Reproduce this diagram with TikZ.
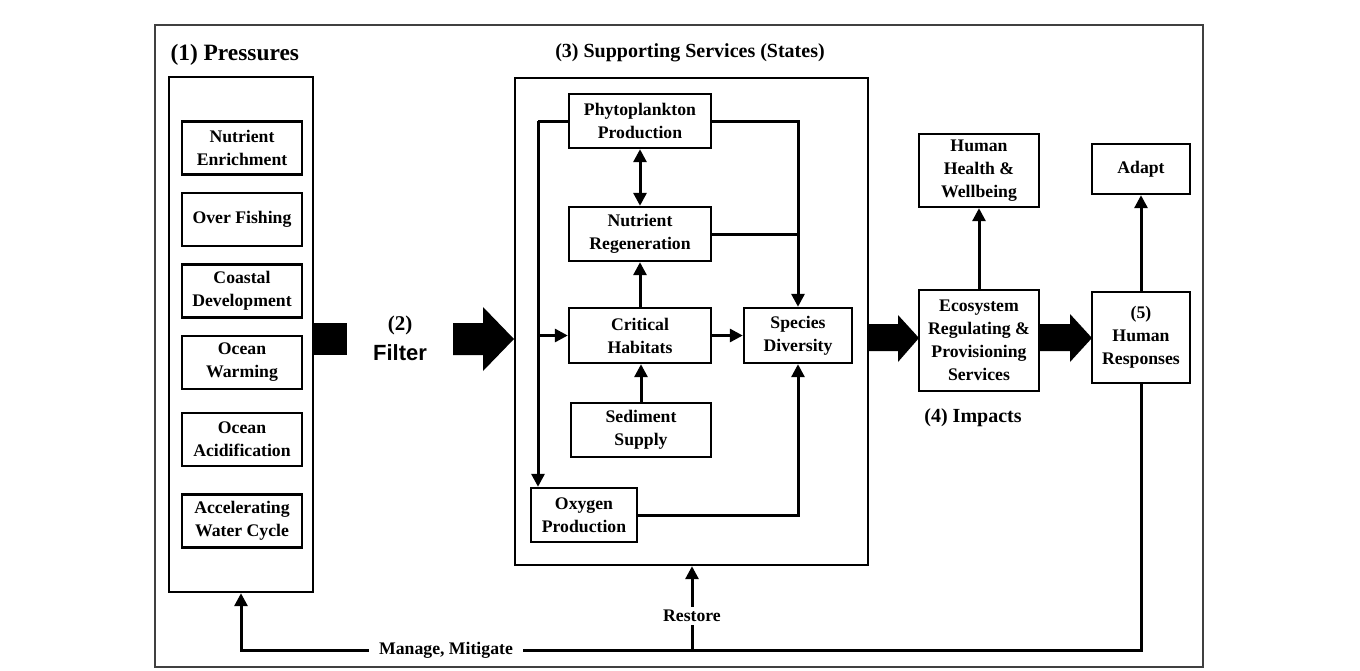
\documentclass[tikz,border=0pt]{standalone}
\usepackage{fontspec}
\setmainfont{Liberation Serif}
\newfontfamily\filterfont{Liberation Sans}
\usepackage{tikz}
\usetikzlibrary{arrows.meta,calc,positioning}

\begin{document}
\begin{tikzpicture}[x=1pt,y=-1pt,
    box/.style={draw,line width=2.4pt,align=center,inner sep=0pt,
        font=\fontsize{17.7}{23}\selectfont\bfseries},
    lbl/.style={font=\fontsize{17.7}{23}\selectfont\bfseries},
    arr/.style={line width=3pt,-{Triangle[length=13pt,width=13pt]}},
    lin/.style={line width=3pt}]
    \useasboundingbox (0,0) rectangle (1360,670);
    \draw[line width=1.3pt,black!75] (155,25) rectangle (1203,667);

    % (1) pressures
    \node[font=\fontsize{23.4}{27}\selectfont\bfseries,anchor=west] (t1) at (167,55) {(1) Pressures};
    \node[box,minimum width=144pt,minimum height=515pt] (press) at (241,334.5) {};
    \node[box,minimum width=120pt,minimum height=53pt] (ne) at (242,148) {Nutrient\\Enrichment};
    \node[box,minimum width=120pt,minimum height=53pt] (of) at (242,219.5) {Over Fishing};
    \node[box,minimum width=120pt,minimum height=53pt] (cd) at (242,291) {Coastal\\Development};
    \node[box,minimum width=120pt,minimum height=53pt] (ow) at (242,362.5) {Ocean\\Warming};
    \node[box,minimum width=120pt,minimum height=53pt] (oa) at (242,439.5) {Ocean\\Acidification};
    \node[box,minimum width=120pt,minimum height=53pt] (aw) at (242,521) {Accelerating\\Water Cycle};

    % (2) filter
    \fill (313,323) rectangle (347,355);
    \node[font=\fontsize{21}{24}\selectfont\bfseries] (t2a) at (400,325) {(2)};
    \node[font=\fontsize{22}{24}\selectfont\filterfont\bfseries] (t2b) at (400,353) {Filter};
    \fill (453,323) -- (483,323) -- (483,307) -- (514,339) -- (483,371) -- (483,355) -- (453,355) -- cycle;

    % (3) supporting services
    \node[font=\fontsize{20}{24}\selectfont\bfseries] (t3) at (690,53) {(3) Supporting Services (States)};
    \node[box,minimum width=353pt,minimum height=487pt] (sup) at (691.5,321.5) {};
    \node[box,minimum width=142pt,minimum height=54pt] (phy) at (640,121) {Phytoplankton\\Production};
    \node[box,minimum width=142pt,minimum height=54pt] (nre) at (640,234) {Nutrient\\Regeneration};
    \node[box,minimum width=142pt,minimum height=55pt] (cri) at (640,335.5) {Critical\\Habitats};
    \node[box,minimum width=108pt,minimum height=55pt] (spe) at (798,335.5) {Species\\Diversity};
    \node[box,minimum width=140pt,minimum height=54pt] (sed) at (641,430) {Sediment\\Supply};
    \node[box,minimum width=106pt,minimum height=54pt] (oxy) at (584,515) {Oxygen\\Production};
    \coordinate (lft) at (538,121);
    \draw[lin] (phy.west) -- (lft);
    \draw[arr] (lft) -- (lft |- oxy.north);
    \draw[arr] (lft |- cri.west) -- (cri.west);
    \draw[arr] (phy.east) -| (spe.north);
    \draw[lin] (nre.east) -- (spe.north |- nre.east);
    \draw[arr] (oxy.east) -| (spe.south);
    \draw[line width=3pt,{Triangle[length=13pt,width=13pt]}-{Triangle[length=13pt,width=13pt]}] (phy.south) -- (nre.north);
    \draw[arr] (cri.north) -- (nre.south);
    \draw[arr] (sed.north) -- (sed.north |- cri.south);
    \draw[arr] (cri.east) -- (spe.west);

    % (4) impacts
    \fill (868,324) -- (898,324) -- (898,315) -- (919,338) -- (898,362) -- (898,351) -- (868,351) -- cycle;
    \node[box,minimum width=120pt,minimum height=101pt] (eco) at (979,340.5) {Ecosystem\\Regulating \&\\Provisioning\\Services};
    \node[box,minimum width=120pt,minimum height=73pt] (hhw) at (979,170.5) {Human\\Health \&\\Wellbeing};
    \node[font=\fontsize{20}{24}\selectfont\bfseries] (t4) at (973,418) {(4) Impacts};
    \draw[arr] (eco.north) -- (hhw.south);

    % (5) human responses
    \fill (1039,324) -- (1070,324) -- (1070,314) -- (1092,338) -- (1070,362) -- (1070,351) -- (1039,351) -- cycle;
    \node[box,minimum width=98pt,minimum height=91pt] (hre) at (1141,337.5) {(5)\\Human\\Responses};
    \node[box,minimum width=98pt,minimum height=50pt] (ada) at (1141,169) {Adapt};
    \draw[arr] (hre.north) -- (ada.south);

    % feedback
    \node[lbl,inner xsep=10pt] (mm) at (446,650) {Manage, Mitigate};
    \node[lbl] (rst) at (692,616) {Restore};
    \draw[lin] (hre.south) |- (mm.east);
    \draw[arr] (mm.west) -| (press.south);
    \draw[lin] (rst.south) -- (rst.south |- mm.east);
    \draw[arr] (rst.north) -- (rst.north |- sup.south);
\end{tikzpicture}
\end{document}
